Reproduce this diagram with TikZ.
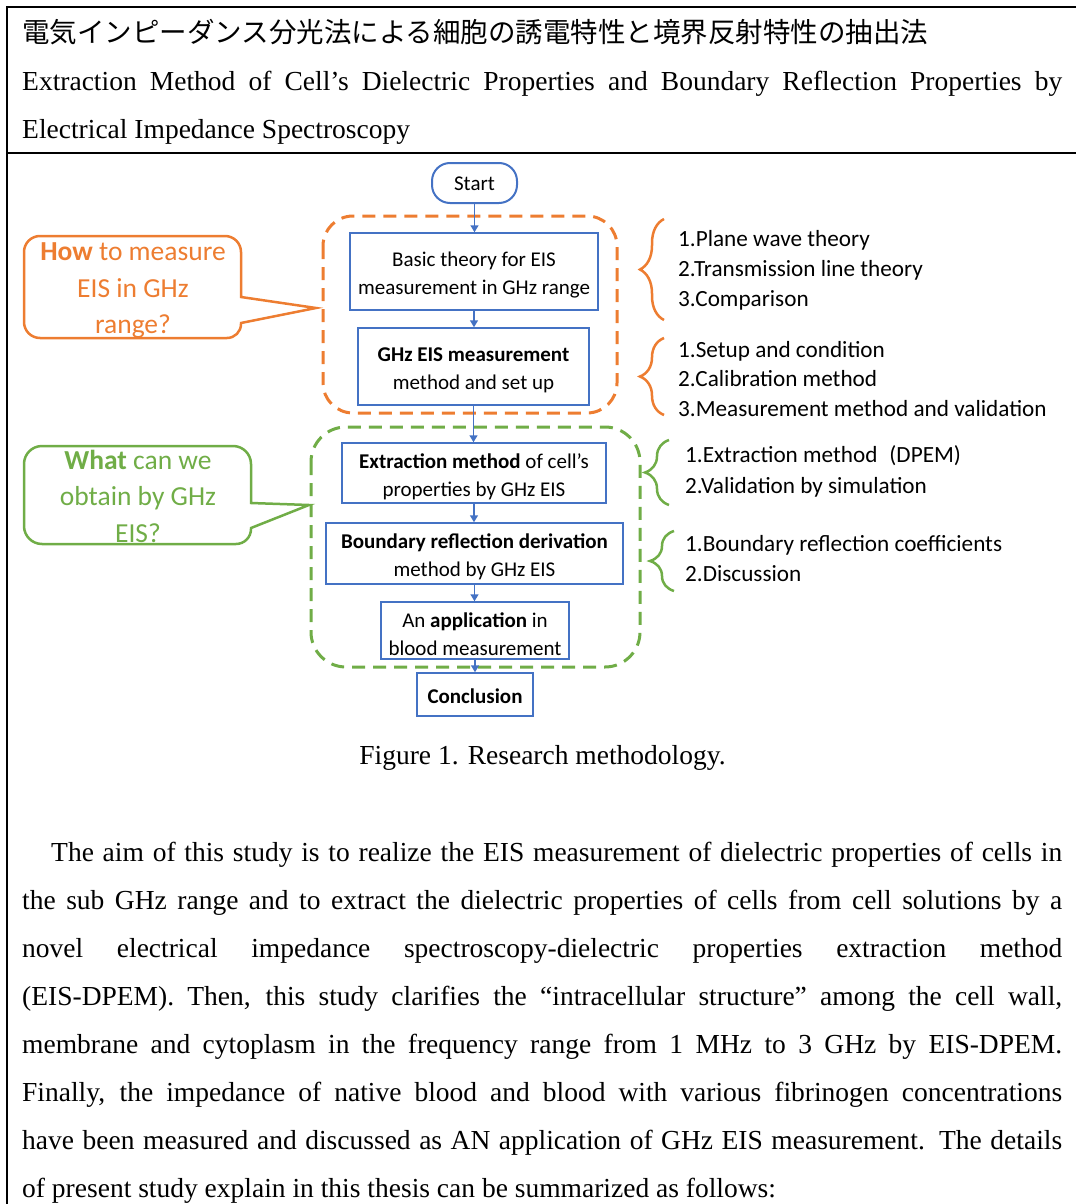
\documentclass[tikz,border=0pt]{standalone}
\usepackage{fontspec}
\setmainfont{Liberation Serif}
\newfontfamily\calibfont{Carlito}
\newfontfamily\jpfont{Noto Sans CJK JP}
\usetikzlibrary{arrows.meta,decorations.pathreplacing}
\definecolor{oran}{HTML}{ED7D31}
\definecolor{gren}{HTML}{70AD47}
\definecolor{blu}{HTML}{4472C4}
\newcommand{\serifsize}{\fontsize{27.5}{33}\selectfont}
\tikzset{
  flowbox/.style={draw=blu, line width=1.5pt, inner sep=0pt},
  flowtext/.style={align=center, inner sep=0pt, font=\calibfont\fontsize{21}{28}\selectfont, text=black},
  flowarrow/.style={draw=blu, line width=1.5pt, -{Triangle[length=7pt,width=8pt]}},
  serifline/.style={anchor=base west, inner sep=0pt, font=\serifsize},
  listline/.style={anchor=base west, inner sep=0pt, font=\calibfont\fontsize{23.2}{28}\selectfont},
  groupbox/.style={line width=3pt, dash pattern=on 13pt off 8pt},
  bracestyle/.style={line width=2.5pt, decorate, decoration={brace, amplitude=24pt}},
  callout/.style={line width=2.5pt},
  callouttext/.style={align=center, inner sep=0pt, font=\calibfont\fontsize{27.5}{36.5}\selectfont},
  framerule/.style={line width=2pt, black}
}
\begin{document}
\begin{tikzpicture}[x=1pt,y=-1pt]
\useasboundingbox (0,0) rectangle (1076,1204);
% frame
\draw[framerule] (1076,7) -- (7,7) -- (7,1204);
\draw[framerule] (7,153) -- (1076,153);
% header
\node[anchor=base west, inner sep=0pt, font=\jpfont\fontsize{27.5}{30}\selectfont] (jtitle) at (22,43) {電気インピーダンス分光法による細胞の誘電特性と境界反射特性の抽出法};
\node[serifline] (etitle1) at (22,91) {\makebox[1040pt][s]{Extraction Method of Cell’s Dielectric Properties and Boundary Reflection Properties by}};
\node[serifline] (etitle2) at (22,138.5) {Electrical Impedance Spectroscopy};

% groups
\draw[groupbox, oran, rounded corners=30pt] (323,216) rectangle (617,413);
\draw[groupbox, gren, rounded corners=35pt] (311,427) rectangle (640,667);

% flow boxes
\node[flowbox, rounded corners=18pt, line width=2pt, minimum width=85pt, minimum height=40pt] (start) at (474.5,183) {};
\node[flowtext] (startt) at (474.5,184) {Start};
\node[flowbox, minimum width=248pt, minimum height=77pt] (b1) at (474,271.5) {};
\node[flowtext] (b1t) at (474,275) {Basic theory for EIS\\measurement in GHz range};
\node[flowbox, minimum width=231pt, minimum height=77pt] (b2) at (473.5,366.5) {};
\node[flowtext] (b2t) at (473.5,370) {\textbf{GHz EIS measurement}\\method and set up};
\node[flowbox, minimum width=264pt, minimum height=60pt] (b3) at (474,473) {};
\node[flowtext] (b3t) at (474,476.5) {\textbf{Extraction method} of cell’s\\properties by GHz EIS};
\node[flowbox, minimum width=297pt, minimum height=61pt] (b4) at (474.5,553.5) {};
\node[flowtext] (b4t) at (474.5,557) {\textbf{Boundary reflection derivation}\\method by GHz EIS};
\node[flowbox, minimum width=188pt, minimum height=57pt] (b5) at (475,630.5) {};
\node[flowtext] (b5t) at (475,634) {An \textbf{application} in\\blood measurement};
\node[flowbox, minimum width=116pt, minimum height=43pt] (concl) at (475,694.5) {};
\node[flowtext] (conclt) at (475,696.5) {\textbf{Conclusion}};

\draw[flowarrow] (start.south) -- (start.south |- b1.north);
\draw[flowarrow] (b1.south) -- (b1.south |- b2.north);
\draw[flowarrow] (b2.south) -- (b2.south |- b3.north);
\draw[flowarrow] (b3.south) -- (b3.south |- b4.north);
\draw[flowarrow] (b4.south) -- (b4.south |- b5.north);
\draw[flowarrow] (b5.south) -- (b5.south |- concl.north);

% callouts
\coordinate (tip1) at (316,308);
\draw[callout, oran, line join=miter] (241,297) -- (241,252) arc[start angle=0, end angle=-90, radius=16]
  -- (40,236) arc[start angle=-90, end angle=-180, radius=16]
  -- (24,322) arc[start angle=180, end angle=90, radius=16]
  -- (227,338) arc[start angle=90, end angle=0, radius=14]
  -- (241,323) -- (tip1) -- cycle;
\node[callouttext, text=oran] (q1) at (133,290.5) {\textbf{How} to measure\\EIS in GHz\\range?};
\coordinate (tip2) at (309,505);
\draw[callout, gren, line join=miter] (251,503) -- (251,464) arc[start angle=0, end angle=-90, radius=18]
  -- (42,446) arc[start angle=-90, end angle=-180, radius=18]
  -- (24,526) arc[start angle=180, end angle=90, radius=18]
  -- (236,544) arc[start angle=90, end angle=0, radius=15]
  -- (251,528) -- (tip2) -- cycle;
\node[callouttext, text=gren] (q2) at (138,496) {\textbf{What} can we\\obtain by GHz\\EIS?};

% braces
\draw[bracestyle, oran] (664,320) -- (664,219);
\draw[bracestyle, oran] (664,415) -- (664,338);
\draw[bracestyle, gren] (669,505) -- (669,440);
\draw[bracestyle, gren] (674,591) -- (674,531);

% lists
\node[listline] (o11) at (678,246) {1.Plane wave theory};
\node[listline] (o12) at (678,276) {2.Transmission line theory};
\node[listline] (o13) at (678,306) {3.Comparison};
\node[listline] (o21) at (678,357) {1.Setup and condition};
\node[listline] (o22) at (678,386.5) {2.Calibration method};
\node[listline] (o23) at (678,416) {3.Measurement method and validation};
\node[listline] (g11) at (685,462) {1.Extraction method\hspace{12pt}(DPEM)};
\node[listline] (g12) at (685,493) {2.Validation by simulation};
\node[listline] (g21) at (685,551) {1.Boundary reflection coefficients};
\node[listline] (g22) at (685,581) {2.Discussion};

% caption
\node[anchor=base, inner sep=0pt, font=\serifsize] (caption) at (542.5,764) {Figure 1. Research methodology.};

% body
\node[serifline] (p1) at (51,861) {\makebox[1011pt][s]{The aim of this study is to realize the EIS measurement of dielectric properties of cells in}};
\node[serifline] (p2) at (22,909) {\makebox[1040pt][s]{the sub GHz range and to extract the dielectric properties of cells from cell solutions by a}};
\node[serifline] (p3) at (22,957) {\makebox[1040pt][s]{novel electrical impedance spectroscopy-dielectric properties extraction method}};
\node[serifline] (p4) at (22,1005) {\makebox[1040pt][s]{(EIS-DPEM). Then, this study clarifies the “intracellular structure” among the cell wall,}};
\node[serifline] (p5) at (22,1053) {\makebox[1040pt][s]{membrane and cytoplasm in the frequency range from 1 MHz to 3 GHz by EIS-DPEM.}};
\node[serifline] (p6) at (22,1101) {\makebox[1040pt][s]{Finally, the impedance of native blood and blood with various fibrinogen concentrations}};
\node[serifline] (p7) at (22,1149) {\makebox[1040pt][s]{have been measured and discussed as AN application of GHz EIS measurement. The details}};
\node[serifline] (p8) at (22,1197) {of present study explain in this thesis can be summarized as follows:};
\end{tikzpicture}
\end{document}
